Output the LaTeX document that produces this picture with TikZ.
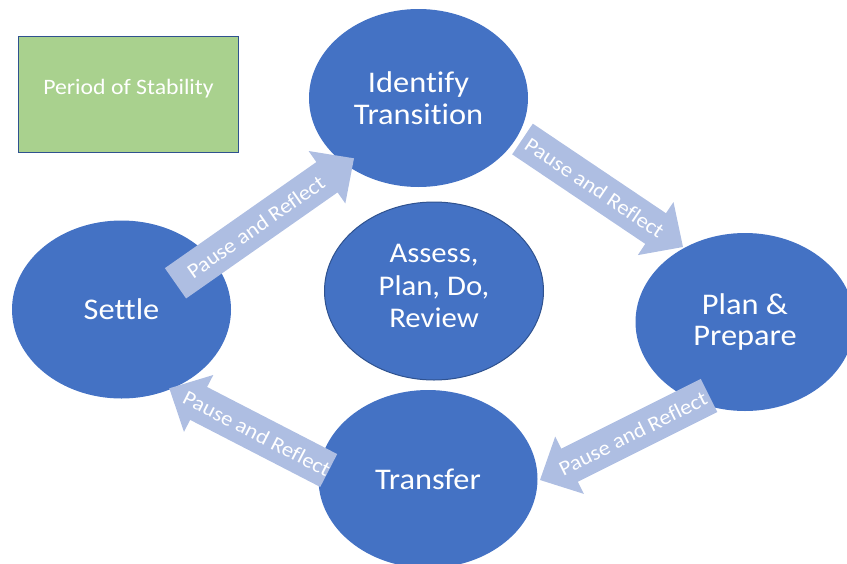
\documentclass[tikz,border=0pt]{standalone}
\usepackage{fontspec}
\setmainfont{Carlito}[FakeStretch=1.08, Ligatures={NoCommon,NoContextual}]
\usepackage{tikz}
\usetikzlibrary{shapes.geometric}
\usetikzlibrary{positioning}
\usetikzlibrary{calc}
\definecolor{stageblue}{HTML}{4472C4}
\definecolor{stageline}{HTML}{2F528F}
\definecolor{pauseblue}{HTML}{AEBEE2}
\definecolor{stablegreen}{HTML}{A9D18E}
\tikzset{
	stage/.style={ellipse, fill=stageblue, text=white, align=center,
		minimum width=219pt, minimum height=178pt, inner sep=0pt,
		font=\fontsize{30}{31.5}\selectfont},
	centrestage/.style={stage, draw=stageline, line width=1pt,
		text depth=10pt, font=\fontsize{28.5}{32.5}\selectfont},
	stability/.style={rectangle, fill=stablegreen, draw=stageline, line width=1.5pt,
		text=white, minimum width=220pt, minimum height=116pt, inner sep=0pt,
		text height=15pt, text depth=15pt, font=\fontsize{22}{26}\selectfont},
	pausefill/.style={fill=pauseblue},
	pausetext/.style={text=white, inner sep=0pt, font=\fontsize{21}{24}\selectfont},
}
% block arrow from #1 to #2
\newcommand{\pausereflect}[2]{%
	\coordinate (#1head) at ($(#2)!33pt!(#1)$);
	\fill[pausefill] ($(#1)!18.5pt!90:(#2)$) -- ($(#1head)!18.5pt!90:(#2)$)
		-- ($(#1head)!32pt!90:(#2)$) -- (#2) -- ($(#1head)!32pt!-90:(#2)$)
		-- ($(#1head)!18.5pt!-90:(#2)$) -- ($(#1)!18.5pt!-90:(#2)$) -- cycle;
	\path let \p1=(#1), \p2=(#2), \n1={atan2(\y2-\y1,\x2-\x1)},
		\n2={ifthenelse(abs(\n1)>90,\n1+180,\n1)} in
		node[pausetext, rotate=\n2] at ($(#1)!0.45!(#2)$) {Pause and Reflect};
}
\begin{document}
\begin{tikzpicture}[x=1pt, y=-1pt]
	\useasboundingbox (0,0) rectangle (847,563);
	\node[stability] (stable) at (128.5,94.5) {Period of Stability};
	\node[stage] (identify) at (418.5,98) {Identify\\Transition};
	\node[stage] (plan) at (745,322) {Plan \&\\Prepare};
	\node[stage] (transfer) at (428,479) {Transfer};
	\node[stage] (settle) at (121.5,309.5) {Settle};
	\node[centrestage] (review) at (434,291) {Assess,\\Plan, Do,\\Review};
%
	\coordinate (settleout) at ($(settle)+(54,-26.2)$);
	\coordinate (identin) at ($(identify)+(-64.5,60.3)$);
	\coordinate (identout) at ($(identify)+(104,41)$);
	\coordinate (planin) at ($(plan)+(-62,-75)$);
	\coordinate (planout) at ($(plan)+(-36,73.5)$);
	\coordinate (transin) at ($(transfer)+(112,1)$);
	\coordinate (transout) at ($(transfer)+(-99.3,-8.5)$);
	\coordinate (settlein) at ($(settle)+(47.8,78.8)$);
%
	\pausereflect{settleout}{identin}
	\pausereflect{identout}{planin}
	\pausereflect{planout}{transin}
	\pausereflect{transout}{settlein}
\end{tikzpicture}
\end{document}
